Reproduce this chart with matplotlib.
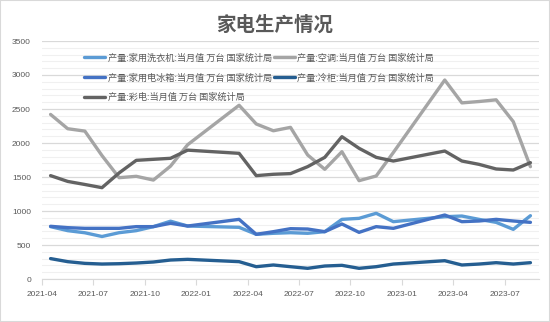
import matplotlib
matplotlib.use("Agg")
import matplotlib.pyplot as plt
from matplotlib.patches import Rectangle
from matplotlib.ticker import MultipleLocator

plt.rcParams['font.family'] = ['Noto Sans CJK SC', 'DejaVu Sans']

months = ['2021-04', '2021-05', '2021-06', '2021-07', '2021-08', '2021-09', '2021-10',
          '2021-11', '2021-12', '2022-03', '2022-04', '2022-05', '2022-06', '2022-07',
          '2022-08', '2022-09', '2022-10', '2022-11', '2022-12', '2023-03', '2023-04',
          '2023-05', '2023-06', '2023-07', '2023-08']

washer = [770, 711, 680, 625, 681, 711, 770, 850, 779,
          760, 657, 672, 681, 672, 696, 877, 892, 966, 843,
          916, 926, 877, 833, 730, 931]
aircon = [2420, 2210, 2175, 1815, 1490, 1510, 1455, 1660, 1975,
          2555, 2280, 2180, 2230, 1824, 1613, 1872, 1446, 1515, 1860,
          2926, 2590, 2610, 2635, 2314, 1652]
fridge = [775, 755, 745, 745, 745, 770, 770, 820, 779,
          877, 657, 696, 740, 735, 696, 809, 686, 770, 745,
          941, 843, 853, 877, 853, 833]
freezer = [300, 255, 230, 220, 225, 235, 250, 279, 289,
           255, 181, 206, 181, 157, 191, 201, 157, 181, 220,
           269, 206, 220, 240, 220, 240]
tv = [1520, 1435, 1390, 1343, 1560, 1745, 1760, 1775, 1895,
      1848, 1520, 1540, 1550, 1652, 1789, 2093, 1922, 1789, 1735,
      1882, 1735, 1686, 1618, 1603, 1711]

labels = ['产量:家用洗衣机:当月值 万台 国家统计局',
          '产量:空调:当月值 万台 国家统计局',
          '产量:家用电冰箱:当月值 万台 国家统计局',
          '产量:冷柜:当月值 万台 国家统计局',
          '产量:彩电:当月值 万台 国家统计局']
colors = ['#5B9BD5', '#A5A5A5', '#4472C4', '#255E91', '#636363']
tick_labels = ['2021-04', '2021-07', '2021-10', '2022-01', '2022-04',
               '2022-07', '2022-10', '2023-01', '2023-04', '2023-07']
title = '家电生产情况'

def month_index(s):
    y, m = s.split('-')
    return (int(y) - 2021) * 12 + (int(m) - 4)

x = [month_index(m) + 0.5 for m in months]
tick_pos = [month_index(t) for t in tick_labels]

fig = plt.figure(figsize=(5.5, 3.22), dpi=100)
fig.patches.append(Rectangle((0, 0), 1, 1, transform=fig.transFigure,
                             fill=False, edgecolor='#D9D9D9', linewidth=1.5))
ax = fig.add_axes([42/550, 1 - 279/322, 497/550, 238/322])

handles = []
for data, c, lab in zip([washer, aircon, fridge, freezer, tv], colors, labels):
    h, = ax.plot(x, data, color=c, linewidth=2.4, label=lab,
                 solid_joinstyle='round', solid_capstyle='round')
    handles.append(h)

ax.set_xlim(0, 29)
ax.set_ylim(0, 3500)
ax.yaxis.set_major_locator(MultipleLocator(500))
ax.yaxis.set_minor_locator(MultipleLocator(100))
ax.grid(which='major', axis='y', color='#D9D9D9', linewidth=0.9)
ax.grid(which='minor', axis='y', color='#F0F0F0', linewidth=0.8)
ax.set_axisbelow(True)
ax.set_xticks(tick_pos)
ax.set_xticklabels(tick_labels, fontfamily='Liberation Sans', fontsize=6, color='#595959')
for lbl in ax.get_yticklabels():
    lbl.set_fontfamily('Liberation Sans')
ax.tick_params(axis='y', which='both', length=0, labelsize=6, labelcolor='#595959', pad=8)
ax.tick_params(axis='x', which='major', length=4, color='#D9D9D9', pad=5)
for side in ['top', 'right', 'left']:
    ax.spines[side].set_visible(False)
ax.spines['bottom'].set_color('#D9D9D9')

order = [0, 2, 4, 1, 3]
leg = ax.legend([handles[i] for i in order], [labels[i] for i in order],
                ncol=2, loc='upper left', bbox_to_anchor=(0.072, 0.975),
                frameon=False, fontsize=6.6, handlelength=2.3, handletextpad=0.3,
                columnspacing=0.15, labelspacing=1.15, borderpad=0.2)
for t in leg.get_texts():
    t.set_color('#595959')

fig.text(0.5, 1 - 25/322, title, ha='center', va='center', fontsize=14,
         fontweight='bold', color='#595959')

fig.savefig('out.png', dpi=100)
